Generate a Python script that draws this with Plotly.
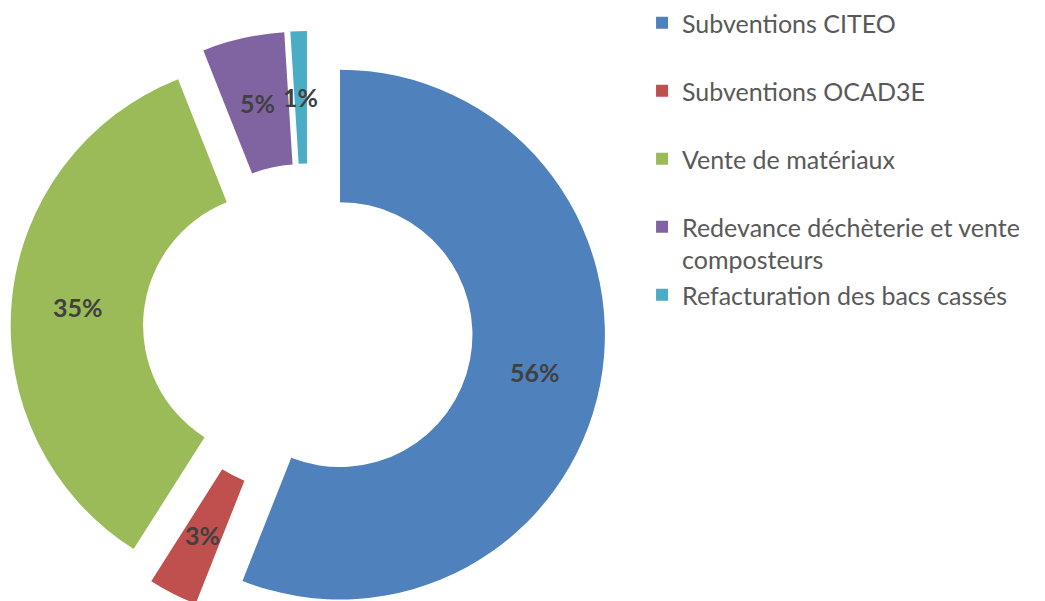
import math
import plotly.graph_objects as go

categories = [
    "Subventions CITEO",
    "Subventions OCAD3E",
    "Vente de matériaux",
    "Redevance déchèterie et vente<br>composteurs",
    "Refacturation des bacs cassés",
]
values = [56, 3, 35, 5, 1]
colors = ["#4F81BD", "#C0504D", "#9BBB59", "#8064A2", "#4BACC6"]

W, H = 1045, 626
PULL = 0.123
HOLE = 0.5
DOM_X = [0.01005, 0.5794]
DOM_Y = [0.0, 0.9505]

# legend labels: pad single-line entries with an empty second line for spacing
legend_labels = [c if "<br>" in c else c + "<br> " for c in categories]
legend_labels[-1] = categories[-1]

fig = go.Figure(
    go.Pie(
        labels=legend_labels,
        values=values,
        marker=dict(colors=colors),
        hole=HOLE,
        pull=[PULL] * len(values),
        sort=False,
        direction="clockwise",
        rotation=0,
        textinfo="none",
        hoverinfo="label+percent",
        domain=dict(x=DOM_X, y=DOM_Y),
        showlegend=True,
    )
)

# data labels placed at the middle of each (pulled) ring segment, as the pie lays it out
box_w = (DOM_X[1] - DOM_X[0]) * W
box_h = (DOM_Y[1] - DOM_Y[0]) * H
r = min(box_w, box_h) / (2 + 2 * PULL)
cx = W * (DOM_X[0] + DOM_X[1]) / 2
cy = H * (1 - (DOM_Y[0] + DOM_Y[1]) / 2)
total = sum(values)
cum = 0.0
annotations = []
for v in values:
    mid = (cum + v / 2) / total
    cum += v
    th = 2 * math.pi * mid
    dist = PULL * r + r * (1 + HOLE) / 2
    px = cx + math.sin(th) * dist
    py = cy - math.cos(th) * dist
    annotations.append(
        dict(
            x=px / W,
            y=1 - py / H,
            xref="paper",
            yref="paper",
            text=f"{round(100 * v / total)}%",
            showarrow=False,
            xanchor="center",
            yanchor="middle",
            font=dict(family="Lato", size=25, color="#404040", weight="bold"),
        )
    )

fig.update_layout(
    width=W,
    height=H,
    margin=dict(l=0, r=0, t=0, b=0),
    paper_bgcolor="white",
    plot_bgcolor="white",
    annotations=annotations,
    legend=dict(
        x=0.6144,
        y=1.0,
        xanchor="left",
        yanchor="top",
        valign="top",
        font=dict(family="Lato", size=25, color="#595959"),
        bgcolor="rgba(0,0,0,0)",
    ),
)

fig.write_html(
    "out.html",
    config={"displayModeBar": False},
    post_script="document.body.style.margin='0';document.documentElement.style.overflow='hidden';document.body.style.overflow='hidden';",
)
